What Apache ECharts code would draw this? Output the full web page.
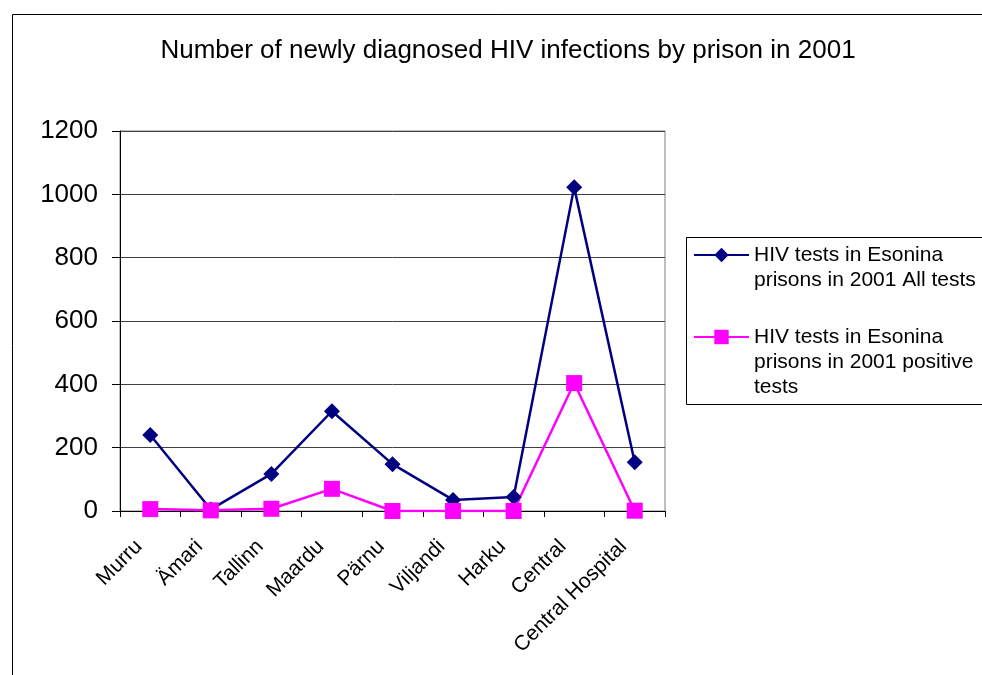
<!DOCTYPE html>
<html>
<head>
<meta charset="utf-8">
<script src="https://cdn.jsdelivr.net/npm/echarts@6/dist/echarts.min.js"></script>
<style>
  html, body { margin: 0; padding: 0; background: #fff; }
  #main { width: 982px; height: 675px; }
</style>
</head>
<body>
<div id="main"></div>
<script>
var prisons = ["Murru", "Ämari", "Tallinn", "Maardu", "Pärnu", "Viljandi", "Harku", "Central", "Central Hospital"];
var allTests = [240, 5, 117, 315, 148, 35, 44, 1022, 154];
var positiveTests = [6, 2, 7, 70, 0, 0, 0, 404, 1];
var nameAll = "HIV tests in Esonina prisons in 2001 All tests";
var namePositive = "HIV tests in Esonina prisons in 2001 positive tests";

var chartDom = document.getElementById("main");
var myChart = echarts.init(chartDom);
var font = "Liberation Sans, Arial, sans-serif";

var option = {
  backgroundColor: "#fff",
  animation: false,
  title: {
    text: "Number of newly diagnosed HIV infections by prison in 2001",
    left: 503,
    textAlign: "center",
    top: 33,
    textStyle: { color: "#000", fontSize: 26, fontWeight: "normal", fontFamily: font }
  },
  graphic: [
    {
      // outer chart frame
      type: "rect", z: 0, silent: true,
      shape: { x: 12.5, y: 14.5, width: 1000, height: 700 },
      style: { fill: "none", stroke: "#000", lineWidth: 1 }
    },
    {
      // legend box
      type: "rect", z: 0, silent: true,
      shape: { x: 686.5, y: 237.5, width: 400, height: 167 },
      style: { fill: "#fff", stroke: "#000", lineWidth: 1 }
    }
  ],
  legend: {
    orient: "vertical",
    left: 693,
    top: 217.5,
    padding: 0,
    itemGap: -18,
    itemWidth: 55,
    itemHeight: 18,
    textStyle: { color: "#000", fontSize: 21, lineHeight: 25, fontFamily: font },
    formatter: function (name) {
      // pad with blank lines so the icon sits beside the first text line
      if (name === nameAll) return "\nHIV tests in Esonina\nprisons in 2001 All tests";
      return "\n\nHIV tests in Esonina\nprisons in 2001 positive\ntests";
    },
    data: [nameAll, namePositive]
  },
  grid: {
    left: 120,
    right: 317,
    top: 131,
    bottom: 164,
    show: true,
    borderColor: "#808080",
    borderWidth: 1,
    backgroundColor: "#fff"
  },
  xAxis: {
    type: "category",
    data: prisons,
    boundaryGap: true,
    axisLine: { lineStyle: { color: "#000", width: 1 } },
    axisTick: { show: true, length: 6, inside: false, lineStyle: { color: "#000" } },
    axisLabel: {
      color: "#000",
      fontSize: 21,
      fontFamily: font,
      rotate: 45,
      margin: 21,
      padding: [0, 16, 0, 0],
      interval: 0
    },
    splitLine: { show: false }
  },
  yAxis: {
    type: "value",
    min: 0,
    max: 1200,
    interval: 200,
    axisLine: { show: true, lineStyle: { color: "#000", width: 1 } },
    axisTick: { show: true, length: 8, lineStyle: { color: "#000" } },
    axisLabel: {
      color: "#000", fontSize: 26, fontFamily: font, margin: 22,
      formatter: function (value) { return String(value); }
    },
    splitLine: { show: true, lineStyle: { color: "#404040", width: 1 } }
  },
  series: [
    {
      name: nameAll,
      type: "line",
      data: allTests,
      symbol: "diamond",
      symbolSize: 16,
      lineStyle: { color: "#000080", width: 2.5 },
      itemStyle: { color: "#000080" }
    },
    {
      name: namePositive,
      type: "line",
      data: positiveTests,
      symbol: "rect",
      symbolSize: 16,
      lineStyle: { color: "#ff00ff", width: 2.5 },
      itemStyle: { color: "#ff00ff" }
    }
  ]
};
option && myChart.setOption(option);
</script>
</body>
</html>
